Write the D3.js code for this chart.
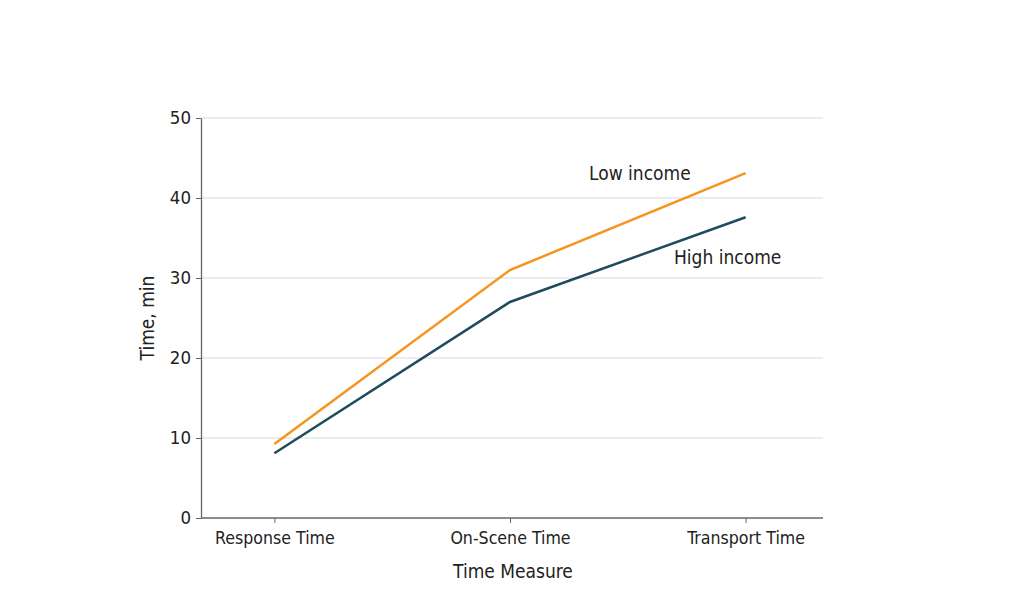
<!DOCTYPE html>
<html><head><meta charset="utf-8">
<script src="https://cdn.jsdelivr.net/npm/d3@7"></script>
<style>
body{margin:0;background:#fff;}
text{font-family:"Liberation Sans Narrow","DejaVu Sans Condensed",sans-serif;fill:#222;}
</style></head><body>
<svg id="c" width="1024" height="594"></svg>
<script>
const categories = ["Response Time", "On-Scene Time", "Transport Time"];
const lowIncome = [9.25, 31, 43.1];
const highIncome = [8.1, 27, 37.6];
const yTicks = [0, 10, 20, 30, 40, 50];
const seriesNames = ["Low income", "High income"];

const svg = d3.select("#c");
const mLeft = 201, mRight = 823, mTop = 118, mBottom = 518;
const x = d3.scalePoint().domain(categories).range([mLeft - 2, mRight - 2]).padding(0.32);
const y = d3.scaleLinear().domain([0, 50]).range([mBottom, mTop]);

// gridlines
svg.append("g").selectAll("line").data(yTicks.filter(d => d > 0)).join("line")
  .attr("x1", mLeft).attr("x2", mRight).attr("y1", d => y(d)).attr("y2", d => y(d))
  .attr("stroke", "#d9d9d9").attr("stroke-width", 1.2);

const yAxis = svg.append("g").attr("transform", `translate(${mLeft},0)`)
  .call(d3.axisLeft(y).tickValues(yTicks).tickSize(5).tickPadding(5).tickSizeOuter(0));
yAxis.select(".domain").attr("stroke", "#666").attr("stroke-width", 1.3);
yAxis.selectAll(".tick line").attr("stroke", "#666");
yAxis.selectAll("text").style("font-size", "18.5px").attr("fill", "#222");

const xAxis = svg.append("g").attr("transform", `translate(0,${mBottom})`)
  .call(d3.axisBottom(x).tickSize(5).tickPadding(9).tickSizeOuter(0));
xAxis.select(".domain").attr("d", `M${mLeft},0H${mRight}`).attr("stroke", "#666").attr("stroke-width", 1.3);
xAxis.selectAll(".tick line").attr("stroke", "#666");
xAxis.selectAll("text").style("font-size", "17.6px").attr("fill", "#222");

svg.append("text").attr("x", 513).attr("y", 578).attr("text-anchor", "middle")
  .style("font-size", "19px").text("Time Measure");
svg.append("text").attr("transform", "translate(154,318) rotate(-90)").attr("text-anchor", "middle")
  .style("font-size", "19px").text("Time, min");

const line = d3.line().x((d, i) => x(categories[i])).y(d => y(d));
svg.append("path").datum(highIncome).attr("d", line).attr("fill", "none")
  .attr("stroke", "#1f4c5c").attr("stroke-width", 2.5);
svg.append("path").datum(lowIncome).attr("d", line).attr("fill", "none")
  .attr("stroke", "#f7941d").attr("stroke-width", 2.5);

svg.append("text").attr("x", 589).attr("y", 180).style("font-size", "19px").text(seriesNames[0]);
svg.append("text").attr("x", 674).attr("y", 264).style("font-size", "19px").text(seriesNames[1]);
</script></body></html>
